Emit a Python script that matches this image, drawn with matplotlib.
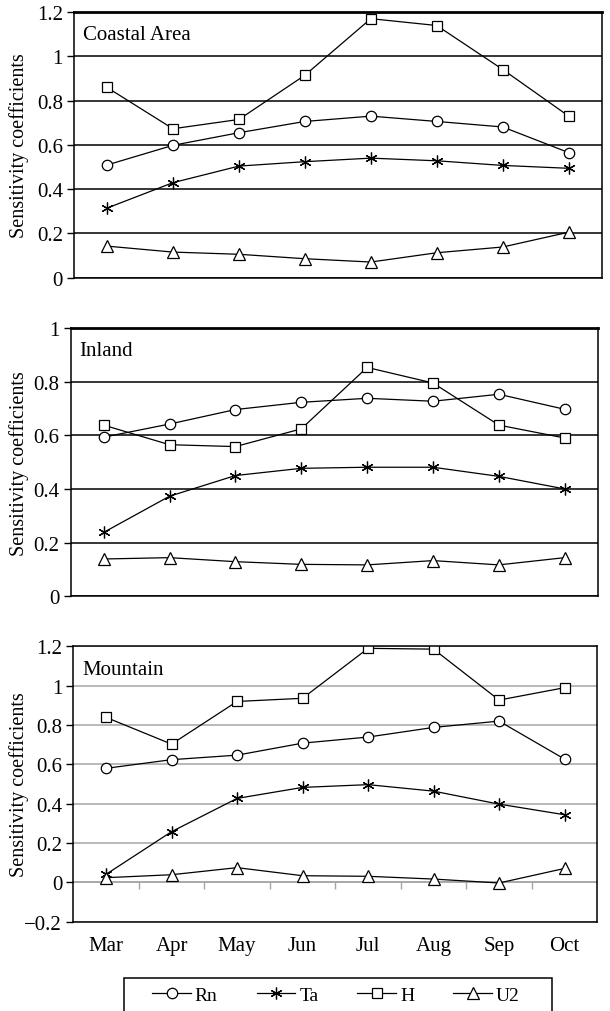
import matplotlib
matplotlib.use('Agg')
import matplotlib.pyplot as plt
from matplotlib.patches import Rectangle
import numpy as np

plt.rcParams['font.family'] = ['Liberation Serif', 'DejaVu Serif']
plt.rcParams['axes.unicode_minus'] = True

months = ['Mar', 'Apr', 'May', 'Jun', 'Jul', 'Aug', 'Sep', 'Oct']
series_names = ['Rn', 'Ta', 'H', 'U2']

# Coastal Area
coast_rn = [0.509, 0.598, 0.655, 0.706, 0.730, 0.706, 0.681, 0.565]
coast_ta = [0.314, 0.429, 0.504, 0.524, 0.540, 0.528, 0.507, 0.494]
coast_h = [0.860, 0.673, 0.715, 0.915, 1.171, 1.140, 0.941, 0.730]
coast_u2 = [0.142, 0.115, 0.105, 0.085, 0.070, 0.112, 0.138, 0.205]

# Inland
inland_rn = [0.593, 0.642, 0.696, 0.723, 0.738, 0.727, 0.753, 0.697]
inland_ta = [0.238, 0.373, 0.450, 0.477, 0.481, 0.481, 0.447, 0.400]
inland_h = [0.638, 0.565, 0.558, 0.624, 0.853, 0.795, 0.638, 0.590]
inland_u2 = [0.139, 0.144, 0.129, 0.119, 0.117, 0.133, 0.117, 0.144]

# Mountain
mount_rn = [0.580, 0.624, 0.647, 0.708, 0.739, 0.788, 0.820, 0.627]
mount_ta = [0.041, 0.258, 0.427, 0.483, 0.497, 0.464, 0.398, 0.344]
mount_h = [0.839, 0.703, 0.920, 0.936, 1.190, 1.186, 0.927, 0.990]
mount_u2 = [0.024, 0.039, 0.075, 0.034, 0.031, 0.017, -0.003, 0.071]

markers = ['o', (6, 2, 0), 's', '^']
msizes = [7.5, 8.5, 7.5, 8.5]


def fmt(v):
    s = f'{v:g}'
    return s.replace('-', '\u2212')


def draw_panel(ax, data, title, yticks, gridcolor):
    x = np.arange(len(months))
    for vals, name, m, ms in zip(data, series_names, markers, msizes):
        ax.plot(x, vals, color='black', lw=0.9, marker=m, ms=ms,
                mfc='white', mec='black', mew=0.9, label=name)
    ax.set_xlim(-0.5, len(months) - 0.5)
    ax.set_ylim(yticks[0], yticks[-1])
    ax.set_yticks(yticks)
    ax.set_yticklabels([fmt(v) for v in yticks])
    ax.yaxis.grid(True, color=gridcolor, lw=1.1)
    ax.set_axisbelow(True)
    ax.tick_params(axis='y', length=5, width=1, labelsize=15, pad=3)
    ax.set_ylabel('Sensitivity coefficients', fontsize=14.5)
    ax.text(0.017, 0.915, title, transform=ax.transAxes, fontsize=15,
            va='center', ha='left')
    for sp in ax.spines.values():
        sp.set_linewidth(1.1)


fig = plt.figure(figsize=(6.1, 10.12), dpi=100)

ax1 = fig.add_axes([0.1213, 0.7248, 0.8651, 0.2621])
draw_panel(ax1, [coast_rn, coast_ta, coast_h, coast_u2], 'Coastal Area',
           [0, 0.2, 0.4, 0.6, 0.8, 1.0, 1.2], 'black')
ax1.spines['top'].set_linewidth(2)
ax1.set_xticks([])
ax1.yaxis.set_label_coords(-0.085, 0.5)

ax2 = fig.add_axes([0.1159, 0.4098, 0.8639, 0.2651])
draw_panel(ax2, [inland_rn, inland_ta, inland_h, inland_u2], 'Inland',
           [0, 0.2, 0.4, 0.6, 0.8, 1.0], 'black')
ax2.spines['top'].set_linewidth(2)
ax2.set_xticks([])
ax2.yaxis.set_label_coords(-0.079, 0.5)

ax3 = fig.add_axes([0.1202, 0.0882, 0.8590, 0.2721])
draw_panel(ax3, [mount_rn, mount_ta, mount_h, mount_u2], 'Mountain',
           [-0.2, 0, 0.2, 0.4, 0.6, 0.8, 1.0, 1.2], '#a6a6a6')
ax3.set_xticks(np.arange(len(months)))
ax3.set_xticklabels(months, fontsize=15)
ax3.tick_params(axis='x', length=0, pad=10)
ax3.yaxis.set_label_coords(-0.0845, 0.5)

# zero line with category-boundary ticks
zero_axis = ax3.secondary_xaxis(0.2 / 1.4)
zero_axis.set_xticks(np.arange(0.5, len(months) - 1, 1))
zero_axis.tick_params(length=5, color='#a6a6a6', width=1, labelbottom=False)
zero_axis.spines['bottom'].set_color('#a6a6a6')
zero_axis.spines['bottom'].set_linewidth(1.1)

handles, labels = ax3.get_legend_handles_labels()
fig.legend(handles, labels, loc='center', ncol=4, frameon=False,
           bbox_to_anchor=(336 / 610, 1 - 996 / 1012), fontsize=14,
           handlelength=2.0, handletextpad=0.2, columnspacing=2.0)
fig.patches.append(Rectangle((124 / 610, -0.01), 428 / 610, 0.01 + 33 / 1012,
                             transform=fig.transFigure, fill=False,
                             ec='black', lw=1.1))

fig.savefig('out.png', dpi=100)
